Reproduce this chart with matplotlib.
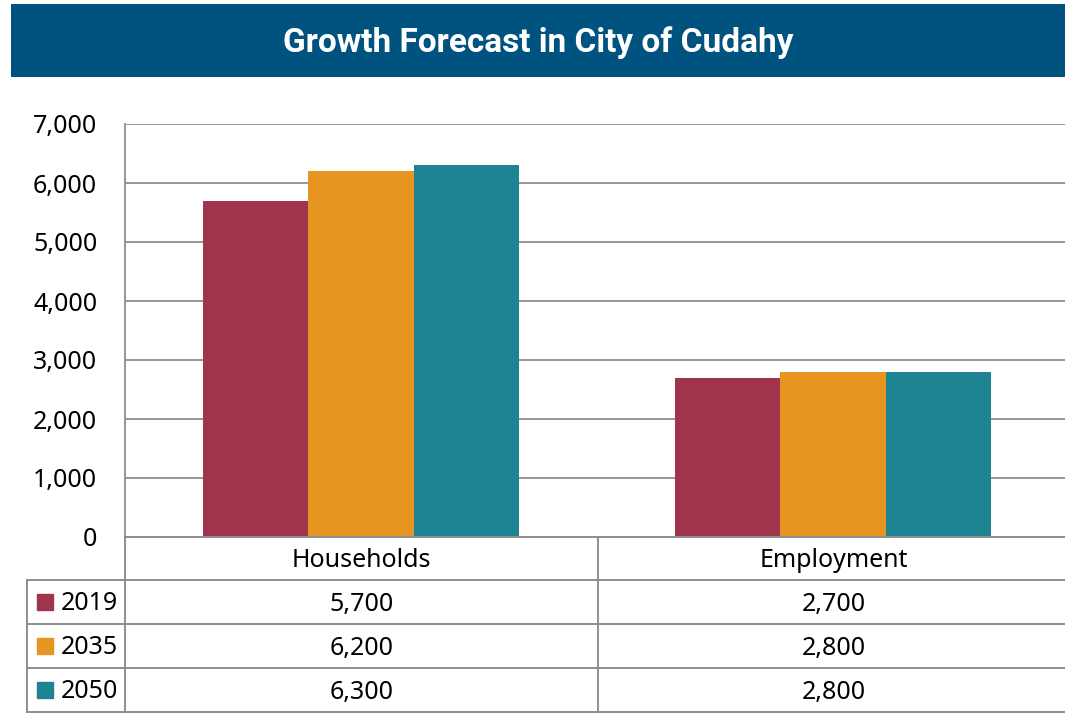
import matplotlib
matplotlib.use("Agg")
import matplotlib.pyplot as plt
from matplotlib.ticker import FuncFormatter
import numpy as np

categories = ["Households", "Employment"]
years = ["2019", "2035", "2050"]
values_2019 = [5700, 2700]
values_2035 = [6200, 2800]
values_2050 = [6300, 2800]
series = [values_2019, values_2035, values_2050]
colors = ["#A0344C", "#E69520", "#1E8494"]
y_ticks = [0, 1000, 2000, 3000, 4000, 5000, 6000, 7000]

W, H = 1065, 714
GRID = "#8E8E8E"
FONT = "Noto Sans"

fig = plt.figure(figsize=(W / 100, H / 100), dpi=100)

# title banner
ban = fig.add_axes([11 / W, 1 - 77 / H, (W - 11) / W, 73 / H])
ban.set_facecolor("#00527F")
ban.set_xticks([])
ban.set_yticks([])
for s in ban.spines.values():
    s.set_visible(False)
ban.text(0.5, 0.342, "Growth Forecast in City of Cudahy", ha="center", va="baseline",
         color="white", fontsize=24, fontweight="bold", family="Roboto")

# bar chart
left, right, top, bottom = 125, 1069, 124, 537
ax = fig.add_axes([left / W, 1 - bottom / H, (right - left) / W, (bottom - top) / H])
x = np.arange(len(categories))
bw = 0.223
for i, (vals, c) in enumerate(zip(series, colors)):
    ax.bar(x + (i - 1) * bw, vals, width=bw, color=c, zorder=3, label=years[i])
ax.set_xlim(-0.5, len(categories) - 0.5)
ax.set_ylim(0, 7000)
ax.set_yticks(y_ticks)
ax.yaxis.set_major_formatter(FuncFormatter(lambda v, p: f"{int(v):,}"))
ax.grid(axis="y", color=GRID, linewidth=1.3, zorder=0)
ax.set_xticks([])
ax.tick_params(axis="y", length=0, pad=20, labelsize=18)
for lab in ax.get_yticklabels():
    lab.set_family(FONT)
for k in ["top", "right", "bottom"]:
    ax.spines[k].set_visible(False)
ax.spines["left"].set_color(GRID)
ax.spines["left"].set_linewidth(1.3)

# data table below the axis
tab = fig.add_axes([0, 0, 1, 1], facecolor="none")
tab.set_xlim(0, W)
tab.set_ylim(H, 0)
tab.axis("off")
row_y = [537, 580, 624, 668, 712]
col_x = [27, 125, 598, right]
lw = 1.4
tab.plot([col_x[1], W], [row_y[0], row_y[0]], color=GRID, lw=lw)
for yy in row_y[1:]:
    tab.plot([col_x[0], W], [yy, yy], color=GRID, lw=lw)
tab.plot([col_x[0], col_x[0]], [row_y[1], row_y[-1]], color=GRID, lw=lw)
for xx in col_x[1:3]:
    tab.plot([xx, xx], [row_y[0], row_y[-1]], color=GRID, lw=lw)

for j, cat in enumerate(categories):
    cx = (col_x[j + 1] + col_x[j + 2]) / 2
    tab.text(cx, (row_y[0] + row_y[1]) / 2 + 2, cat, ha="center", va="center",
             fontsize=18, family=FONT)
for i, (vals, c) in enumerate(zip(series, colors)):
    cy = (row_y[i + 1] + row_y[i + 2]) / 2
    tab.add_patch(plt.Rectangle((37, cy - 8), 16, 16, color=c))
    tab.text(61, cy + 2, years[i], ha="left", va="center", fontsize=18, family=FONT)
    for j, v in enumerate(vals):
        cx = (col_x[j + 1] + col_x[j + 2]) / 2
        tab.text(cx, cy + 2, f"{v:,}", ha="center", va="center", fontsize=18, family=FONT)

fig.savefig("out.png", dpi=100)
